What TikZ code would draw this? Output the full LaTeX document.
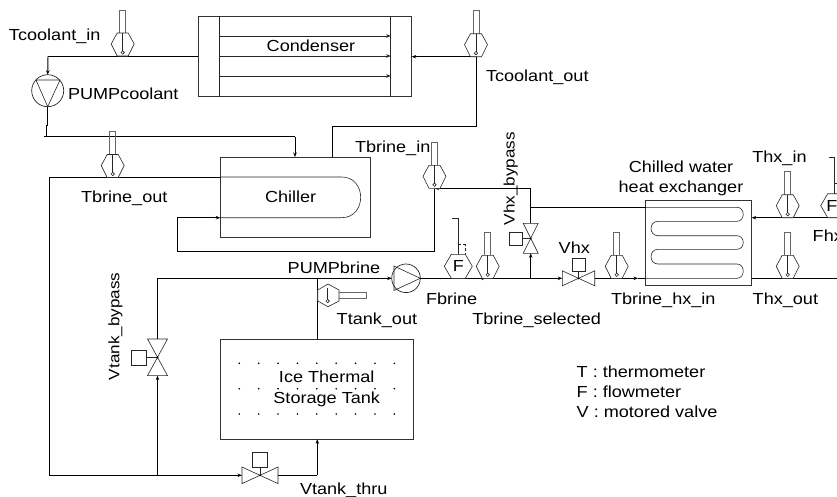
\documentclass[tikz,border=0pt]{standalone}
\usepackage{fontspec}
\setmainfont[FakeStretch=1.13]{Liberation Sans}
\usetikzlibrary{arrows.meta}
\tikzset{
  lbl/.style={inner sep=0pt,outer sep=0pt,anchor=base west,font=\fontsize{16}{18}\selectfont},
  lblc/.style={inner sep=0pt,outer sep=0pt,anchor=base,font=\fontsize{16}{18}\selectfont},
  lblv/.style={inner sep=0pt,outer sep=0pt,anchor=base west,rotate=90,font=\fontsize{15.1}{18}\selectfont},
  boxn/.style={draw=black!80,line width=0.7pt,rectangle,inner sep=0pt,outer sep=0pt},
  pipe/.style={draw=black,line width=0.95pt},
  thinl/.style={draw=black!85,line width=0.6pt},
  tip/.style={-{Stealth[length=4.5pt,width=3.5pt]}},
  pumpn/.style={draw=black!85,line width=0.7pt,circle,inner sep=0pt,outer sep=0pt},
  thermo/.pic={
    \draw[draw=black!60,line width=0.75pt] (-3,-23)--(-3,-46)--(3,-46)--(3,-23);
    \draw[thinl,fill=white] (-5.5,-23)--(5.5,-23)--(11.5,-12)--(5.5,0)--(-5.5,0)--(-11.5,-12)--cycle;
    \draw[thinl] (0,-23)--(0,-5);
    \draw[thinl] (0,-3.5) circle (1.7);
  },
  flowm/.pic={
    \draw[thinl,fill=white] (-7,-24)--(7,-24)--(14,-12)--(7,0)--(-7,0)--(-14,-12)--cycle;
    \draw[thinl] (-6,-60.5)--(0,-60.5)--(0,-24);
    \draw[thinl,densely dashed] (0,-34)--(6.5,-34)--(6.5,-24);
  }
}
\newcommand{\valveH}[6]{% name x y halfwidth halfheight boxsize
  \coordinate (#1-l) at ({#2-#4},#3);
  \coordinate (#1-r) at ({#2+#4},#3);
  \draw[thinl,fill=white] (#1-l)--++(0,-#5)--({#2+#4},{#3+#5})--++(0,-2*#5)--({#2-#4},{#3+#5})--cycle;
  \draw[thinl] (#2,#3)--(#2,{#3-#5});
  \draw[thinl,fill=white] ({#2-#6/2},{#3-#5}) rectangle ({#2+#6/2},{#3-#5-#6});
  \fill (#2,#3) circle (1);
}
\newcommand{\valveV}[6]{% name x y halfwidth halfheight boxsize
  \coordinate (#1-t) at (#2,{#3-#5});
  \coordinate (#1-b) at (#2,{#3+#5});
  \draw[thinl,fill=white] ({#2-#4},{#3-#5})--({#2+#4},{#3-#5})--({#2-#4},{#3+#5})--({#2+#4},{#3+#5})--cycle;
  \draw[thinl] (#2,#3)--({#2-#4-1},#3);
  \draw[thinl,fill=white] ({#2-#4-1},{#3-#6/2}) rectangle ({#2-#4-1-#6},{#3+#6/2});
  \fill (#2,#3) circle (1);
}
\begin{document}
\begin{tikzpicture}[x=1pt,y=-1pt]
\useasboundingbox (0,0) rectangle (837,496);
% main units
\node[boxn,minimum width=213.7pt,minimum height=80.7pt] (condenser) at (304.85,56.35) {};
\node[boxn,minimum width=149.7pt,minimum height=80.7pt] (chiller) at (295.15,197.35) {};
\node[boxn,minimum width=192.6pt,minimum height=100.3pt] (tank) at (317,389.15) {};
\node[boxn,minimum width=106pt,minimum height=85.3pt] (hx) at (698.7,242.65) {};
\node[pumpn,minimum size=32pt] (pumpc) at (47.7,90.7) {};
\node[pumpn,minimum size=28.6pt] (pumpb) at (406,278.3) {};
% condenser internals
\draw[thinl] (219.3,16)--(219.3,96.7);
\draw[thinl] (390.7,16)--(390.7,96.7);
\coordinate (cl1) at (219.3,36); \coordinate (cr1) at (390.7,36);
\coordinate (cl2) at (219.3,56); \coordinate (cr2) at (390.7,56);
\coordinate (cl3) at (219.3,76); \coordinate (cr3) at (390.7,76);
\draw[thinl,tip] (cl1)--(cr1);
\draw[thinl,tip] (cl2)--(cr2);
\draw[thinl,tip] (cl3)--(cr3);
% chiller tube
\draw[thinl] (220.3,177)--(341.7,177) .. controls (367,177) and (367,217.7) .. (341.7,217.7)--(220.3,217.7);
% pump symbols
\draw[thinl] (36,80)--(60,80)--(47.7,106.7)--cycle;
\draw[thinl] (394,266)--(394,290.5)--(420.3,278.3)--cycle;
% HX serpentine
\coordinate (hxa) at (645.7,207.3);
\coordinate (hxb) at (645.7,278.3);
\draw[thinl] (hxa)--(737,207.3) .. controls (745.3,207.3) and (745.3,221.3) .. (737,221.3)--(658,221.3)
  .. controls (648.7,221.3) and (648.7,235.7) .. (658,235.7)--(737,235.7)
  .. controls (745.3,235.7) and (745.3,249.3) .. (737,249.3)--(658,249.3)
  .. controls (648.7,249.3) and (648.7,264) .. (658,264)--(737,264)
  .. controls (745.3,264) and (745.3,278.3) .. (737,278.3)--(hxb);
% tank dots
\foreach \yy in {363.3,388.7,414}
  \foreach \i in {0,...,8}
    \fill ({239.3+19.38*\i},\yy) circle (0.9);
% coolant loop
\coordinate (a1) at (48,56);
\coordinate (a2) at (47.7,125);
\coordinate (a3) at (46,125);
\coordinate (a4) at (46,136.5);
\coordinate (a5) at (44,136.5);
\coordinate (a6) at (295,136.5);
\coordinate (a7) at (476.7,56.7);
\coordinate (a8) at (476.7,126.7);
\coordinate (a9) at (332.3,126.7);
\draw[pipe] (condenser.west |- a1)--(a1);
\draw[pipe,tip] (a1)--(pumpc.north);
\draw[pipe] (pumpc.south)--(a2)--(a3)--(a4);
\draw[pipe] (a5)--(a6);
\draw[pipe,tip] (a6)--(a6 |- chiller.north);
\draw[pipe,tip] (a7)--(condenser.east |- a7);
\draw[pipe] (a7)--(a8)--(a9)--(a9 |- chiller.north);
% brine loop
\coordinate (b1) at (49.3,177.5);
\coordinate (b2) at (49.3,475.3);
\coordinate (b3) at (157.5,475.3);
\coordinate (b4) at (317.3,475.3);
\coordinate (b5) at (317.3,278.3);
\coordinate (b6) at (157.5,278.3);
\coordinate (b7) at (177.3,217.7);
\coordinate (b8) at (177.3,251.5);
\coordinate (b9) at (434.5,251.5);
\coordinate (b10) at (434.5,188.3);
\coordinate (b11) at (530.7,188.3);
\coordinate (b12) at (530.7,207.3);
\coordinate (b13) at (530.7,278.3);
\coordinate (b14) at (638,278.3);
\coordinate (b15) at (486,278.3);
\valveH{vtt}{260}{475.3}{18}{8.3}{15}
\valveH{vhx}{578.5}{278.3}{16.2}{7.5}{13}
\valveV{vtb}{157.5}{357.3}{10}{18.3}{15}
\valveV{vhb}{530.7}{238.3}{7.5}{15}{13}
\draw[pipe] (chiller.west |- b1)--(b1)--(b2)--(b3);
\draw[pipe,tip] (b3)--(vtt-l);
\draw[pipe] (vtt-r)--(b4);
\draw[pipe,tip] (b4)--(b4 |- tank.south);
\draw[pipe] (b5 |- tank.north)--(b5);
\draw[pipe,tip] (b6)--(pumpb.west);
\draw[pipe] (b6)--(vtb-t);
\draw[pipe,tip] (b3)--(vtb-b);
\draw[pipe,tip] (b15)--(vhx-l);
\draw[pipe,tip] (pumpb.east)--(b15);
\draw[pipe,tip] (vhx-r)--(b14);
\draw[pipe] (b14)--(hxb);
\draw[pipe] (b9)--(b8)--(b7);
\draw[pipe,tip] (b7)--(chiller.west |- b7);
\draw[pipe,tip] (b11)--(b10);
\draw[pipe] (b10)--(b9);
\draw[pipe] (b11)--(b12)--(vhb-t);
\draw[pipe] (b12)--(hxa);
\draw[pipe,tip] (b13)--(vhb-b);
% HX secondary side
\coordinate (r1) at (837,217.7);
\coordinate (r2) at (837,278.3);
\draw[pipe,tip] (r1)--(hx.east |- r1);
\draw[pipe] (hx.east |- r2)--(r2);
% thermometers
\pic at (122.7,56) {thermo};
\pic at (476,56.7) {thermo};
\pic at (112.7,177.5) {thermo};
\pic at (434.5,188.3) {thermo};
\pic at (487.7,278.3) {thermo};
\pic at (616.7,278.3) {thermo};
\pic at (787.7,217.7) {thermo};
\pic at (787.7,278.3) {thermo};
% Ttank_out (horizontal stem)
\draw[draw=black!60,line width=0.75pt] (339,292.3)--(366,292.3)--(366,298.3)--(339,298.3);
\draw[thinl,fill=white] (328,284)--(339,290)--(339,301)--(328,306.7)--(317.7,301)--(317.7,290)--cycle;
\draw[thinl] (327.7,288)--(327.7,299);
\draw[thinl] (327.7,301) circle (1.7);
% flowmeters
\pic at (458.3,278.3) {flowm};
\pic at (834.7,217.7) {flowm};
\node[lblc] (fa) at (458.3,271.7) {F};
\node[lblc] (fb) at (832,211) {F};
% labels
\node[lbl] (l1) at (9,40.5) {Tcoolant\_in};
\node[lbl] (l2) at (68,99.3) {PUMPcoolant};
\node[lbl] (l3) at (81,202.3) {Tbrine\_out};
\node[lbl] (l4) at (266.7,51) {Condenser};
\node[lbl] (l5) at (486,81.7) {Tcoolant\_out};
\node[lbl] (l6) at (265,202.3) {Chiller};
\node[lbl] (l7) at (355,152.3) {Tbrine\_in};
\node[lblv] (l8) at (514.5,225) {Vhx\_bypass};
\node[lblc] (l9) at (681,172.3) {Chilled water};
\node[lblc] (l10) at (681,192.7) {heat exchanger};
\node[lbl] (l11) at (752.3,162.7) {Thx\_in};
\node[lbl] (l12) at (812.7,241.7) {Fhx};
\node[lbl] (l13) at (752.7,304) {Thx\_out};
\node[lbl] (l14) at (611,304) {Tbrine\_hx\_in};
\node[lbl] (l15) at (287.7,273.3) {PUMPbrine};
\node[lbl] (l16) at (426,304) {Fbrine};
\node[lbl] (l17) at (336.7,324) {Ttank\_out};
\node[lbl] (l18) at (472.3,324) {Tbrine\_selected};
\node[lbl] (l19) at (558.7,253.3) {Vhx};
\node[lblv] (l20) at (119.3,380) {Vtank\_bypass};
\node[lbl] (l21) at (300,494.3) {Vtank\_thru};
\node[lblc] (l22) at (326.7,382.5) {Ice Thermal};
\node[lblc] (l23) at (326.7,403.5) {Storage Tank};
\node[lbl] (l24) at (576.7,377.7) {T : thermometer};
\node[lbl] (l25) at (576.7,397.7) {F : flowmeter};
\node[lbl] (l26) at (576.7,417.3) {V : motored valve};
\end{tikzpicture}
\end{document}
